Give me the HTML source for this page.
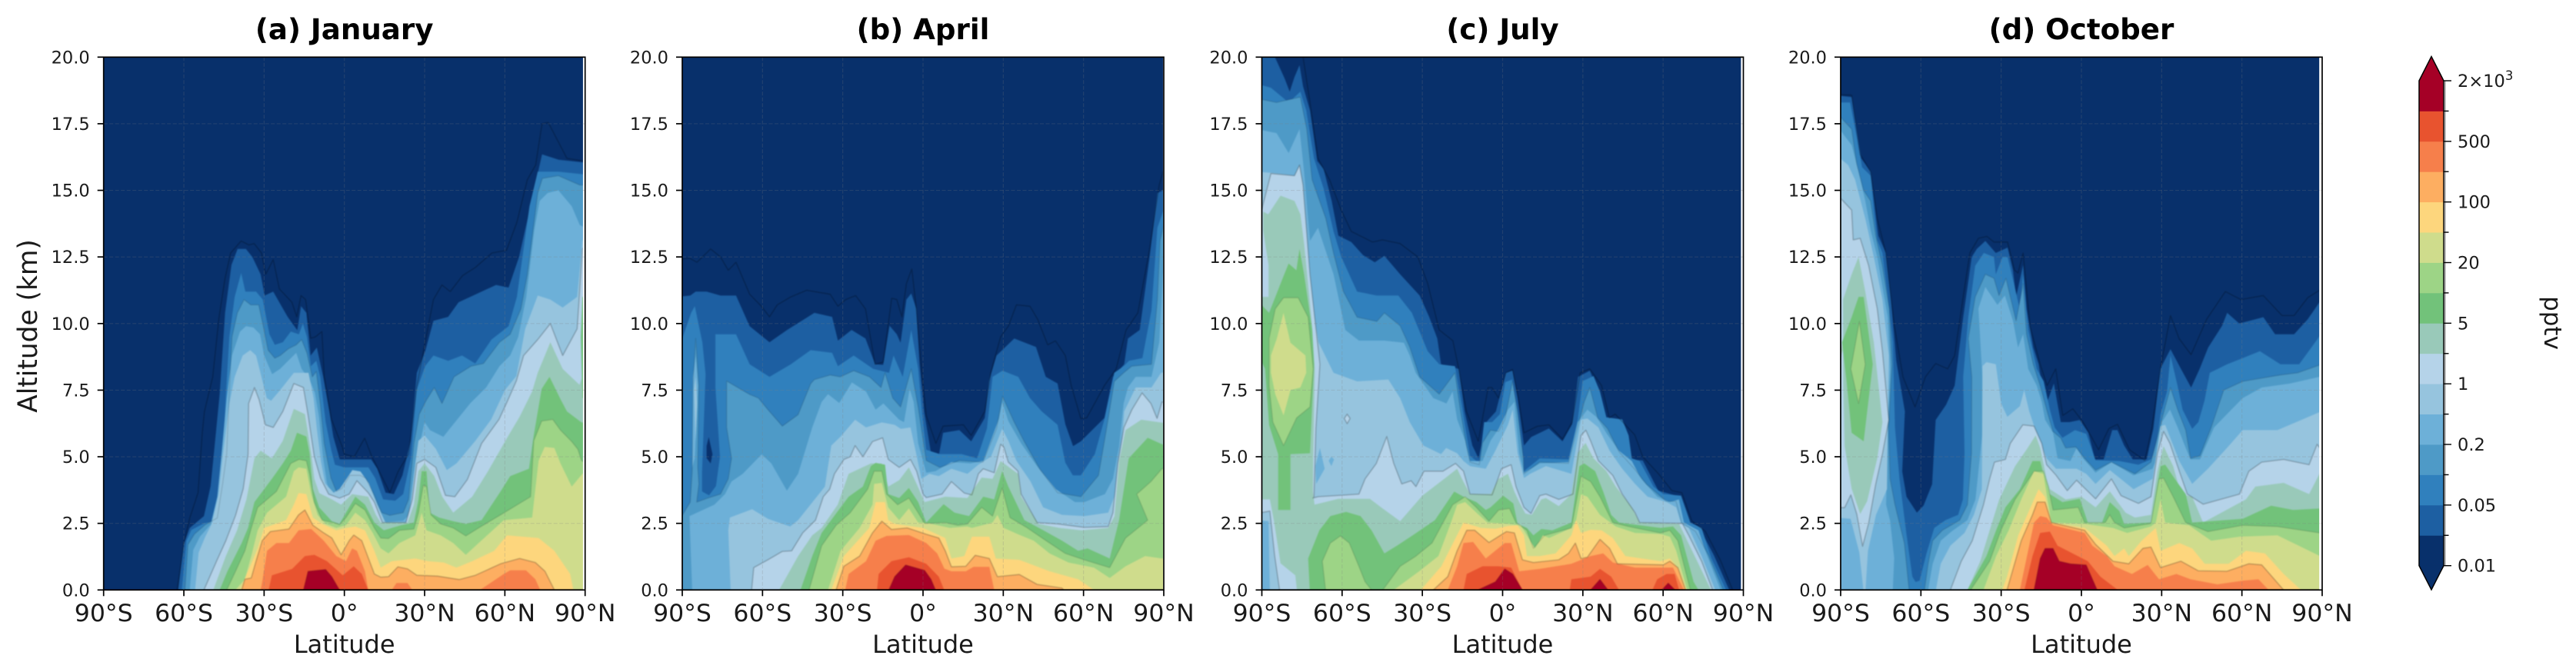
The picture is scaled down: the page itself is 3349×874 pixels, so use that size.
<!DOCTYPE html>
<html lang="en">
<head>
<meta charset="utf-8">
<title>Seasonal latitude-altitude cross sections</title>
<style>
html,body{margin:0;padding:0;background:#fff;}
svg{display:block;}
text{font-family:"DejaVu Sans","Liberation Sans",sans-serif;fill:#1a1a1a;}
</style>
</head>
<body>
<svg id="figure" xmlns="http://www.w3.org/2000/svg" width="3349" height="874" viewBox="0 0 3349 874">
<rect x="0" y="0" width="3349" height="874" fill="#ffffff"/>
</svg>
<script>
// Contour levels (pptv) and the colour of the band above each level
const levels = [0.01,0.02,0.05,0.1,0.2,0.5,1,2,5,10,20,50,100,200,500,1000,2000];
const bandColors = ['#08306b','#1d5fa2','#3080bd','#4e9ac7','#6db0d8','#96c4de','#b5d3e9','#99c9b9','#72c27a','#9dd486','#cfdc8c','#fdd67d','#fdae61','#f67f4b','#e8532f','#a50026'];
const cbarTickLabels = ['0.01','','0.05','','0.2','','1','','5','','20','','100','','500','','2×10^3'];
const latTicks = [-90,-60,-30,0,30,60,90];
const latTickLabels = ['90°S','60°S','30°S','0°','30°N','60°N','90°N'];
const altTicks = [0,2.5,5,7.5,10,12.5,15,17.5,20];
const altTickLabels = ['0.0','2.5','5.0','7.5','10.0','12.5','15.0','17.5','20.0'];
const panelTitles = ['(a) January','(b) April','(c) July','(d) October'];
const lastDataLat = [89.2,89.7,89.1,88.9];

// January: rings of lat,alt pairs for region where value >= level
const jan0p01=[[-62.5,0,-60.1,1.7,-57.8,2.7,-54.7,3.65,-53.1,5.9,-52.3,6.7,-49.2,8,-46.9,10.2,-44.6,11.7,-42.5,12.65,-38.6,13.1,-35.7,12.95,-33.7,13,-31,12.65,-29.4,11.85,-26.6,12.4,-24.3,11.3,-19.6,10.8,-17.8,10.25,-16.2,11.05,-14.5,10.9,-12.6,9.45,-10.8,9.5,-8.4,9.7,-7.5,8,-4.8,6.4,-0.9,5.4,0,5.1,3.7,5,7.6,5.7,10.3,5,12.3,4.6,17,3.65,20.1,4.45,24,5.1,27.1,7.65,30.2,9.3,33.3,10.9,36.5,11.45,39.6,11.2,44.2,11.8,48.9,12.1,55.2,12.65,60.6,12.75,64.5,13.8,68.4,15.4,71.5,15.95,73.9,17.5,76.2,17.55,83.2,16.2,89.4,16.1,92,16.1,92,0]];
const jan0p02=[[-62.1,0,-60.1,1.7,-57.8,2.33,-52.5,2.77,-50,3.9,-49,4.9,-46.6,7.35,-44.6,10.4,-42.2,12.2,-39.9,12.8,-36.8,12.8,-34.4,12.5,-31.3,11.85,-29.8,11.05,-26.6,11.2,-23.5,10.65,-21.2,10.25,-17.6,9.75,-16.2,10.65,-14.2,10.4,-12.6,8.8,-10.3,9.1,-7.9,8,-5.6,6.7,-4.1,5.75,-1.7,4.9,10,4.9,12.3,4.55,15.4,3.65,18.5,3.6,21.7,4.3,24.8,5.6,27.1,8.15,30.2,8.95,33.3,10.1,38.8,10.25,42.7,10.8,56.7,11.45,61.4,11.35,65.3,12.5,69.2,14.25,73.9,16.35,80.1,16.15,89.4,16.05,92,16.05,92,0]];
const jan0p05=[[-60.8,0,-59,1.85,-57.2,2.25,-52.5,2.5,-48.4,2.6,-46.6,4,-45.4,5.1,-44.2,7.5,-43,9.5,-41,11,-38.6,11.9,-37,11.2,-33,11.2,-30.5,10.9,-28,9.6,-26,9.2,-23,9.3,-20,9.7,-17,9.6,-15.5,10,-14,9.5,-12.5,8.4,-10.5,8.6,-9,8,-7,6.3,-5,5.3,-3.5,4.7,0,4.6,9,4.6,11.5,4.2,14.5,3.4,19,3.35,22,3.6,25,5,27,7.5,30.2,8.4,33.3,8.8,38.8,8.6,44,8.8,48.9,8.5,55,9.4,61.4,9.9,64.5,11,69.2,14.4,72.3,15.7,80,15.7,89.5,15.6,92,15.6,92,0]];
const jan0p1=[[-59.6,0,-58.5,1.7,-56,2.1,-52,2.45,-47.5,2.7,-45.5,4,-44,5.1,-43,7.5,-42,9.5,-40,10.4,-37.5,10.9,-35,10.7,-32,10.7,-30.5,10,-28.5,9,-26,8.7,-24,8.8,-21,9.05,-18,9.2,-16,9.4,-14,8.9,-12,8,-10.5,8.2,-9,7,-7.5,5.5,-5,4.2,-3,3.7,-1,3.8,2,4.3,6,4.3,8,4.2,11,3.6,14,2.9,17,2.8,22,2.9,24,3.4,26,5.5,28,6.6,30.5,7.1,33.6,7.6,36.5,7,41,8,47.4,8.4,52,8.5,58,9.3,62,9.6,66,10.55,68.4,11.85,72.3,14.9,74,15.45,80,15.55,88,15.2,92,15.2,92,0]];
const jan0p2=[[-57.8,0,-56.5,1.5,-54,2,-50,2.45,-47.5,3.5,-46,5,-44,7.2,-42,8.8,-39,9.7,-36.8,9.9,-34,9.85,-31.5,9.6,-30,8.8,-27,8.1,-24,8.3,-21,8.6,-18,8.9,-16,8.3,-13,7.9,-11,7.4,-9.5,6.5,-8,5,-6.5,4,-3,3.1,-1,3.3,1.5,3.9,5,4,7,3.7,10,3.4,13,2.6,16,2.55,22,2.6,24,2.8,26,4.4,28,5.4,30,6.3,32,6,34,5.9,37,5.75,39,6,43,6.5,47,7,53,7.6,58,8.4,62,8.8,65,9.5,68,11,71,13.5,73,14.6,76,14.9,80,15,85,14.4,88,13.7,92,13.5,92,0]];
const jan0p5=[[-55.8,0,-54.5,1.4,-52,2,-49.5,2.5,-47,3.6,-45.5,5,-43,7,-41,8,-38,8.8,-35.2,9,-33,8.8,-31,8,-29,7.2,-27.4,7.1,-24,7.5,-18.9,8.15,-13.4,8.15,-11.5,7.2,-10.3,6.05,-8.7,4.8,-7.2,4,-4,3.65,-1.7,3.8,3,4.5,6,4.45,9.2,4,12.3,3.2,15.4,2.52,23.2,2.52,24.8,3.17,26.5,4.75,27.7,5.6,30,5.8,34.2,5.3,38.3,4.5,41.9,4.75,49,5.6,54.9,6.4,60,7.5,64.3,8.03,67.6,9.8,72.3,11.05,77,10.9,81.6,10.6,87,11,89,13.1,92,13.5,92,0]];
const jan1=[[-52.5,0,-47.8,1.08,-44.3,1.85,-40.7,2.8,-37.8,3.8,-36,5.1,-35.8,7,-33.6,7.6,-31.9,7.15,-29.5,6.2,-26.6,6.1,-23,6.7,-18.9,7.75,-15.3,7.6,-13.6,6.6,-11.2,5,-8.9,4.2,-5.9,3.6,-1.8,3.45,1.8,3.6,4.7,4.1,8.9,3.65,11.2,3.3,14.2,2.53,23,2.53,25.4,3.4,27.1,4.75,30,4.9,34.2,4.6,37.8,3.55,41.3,3.5,46,4.15,51.3,5.5,57.8,6.4,60.8,7.05,64.3,7.85,67,8.8,72.3,9.4,77,10,81.6,8.8,87,9.8,89,12.8,92,13,92,0]];
const jan2=[[-49,0,-44.3,1.27,-40.1,2.24,-36.6,3.4,-33.6,4.94,-31.3,5.23,-27.1,4.94,-23,5.6,-18.9,6.8,-14.75,6.6,-12.4,5.13,-11.2,4.17,-9.4,3.64,-4.7,3.4,-1.2,3.2,2.9,3.6,8.9,3.5,11.8,2.82,13.6,2.53,23.6,2.53,26,3.2,27.7,4.46,30,4.75,33.6,4.27,36.6,3.5,40.7,2.9,47.8,3.5,53.7,4.46,60.8,5.7,65.5,6.5,70.2,7.45,72.3,8.15,77,9.3,81.6,8.3,87.9,7.7,89,8,92,8,92,0]];
const jan5=[[-46.6,0,-43.7,0.7,-38.4,1.76,-36,2.33,-33.6,3.3,-27.1,4.17,-23,4.75,-20,5.23,-17.7,5.9,-14.2,5.76,-13,5.13,-11.8,3.8,-9.4,3.1,-4.7,2.58,-1.8,2.48,0.6,2.9,4.1,3.5,7.7,3.2,11.2,2.53,14.75,2.24,21.2,2.43,26,2.53,27.7,3.4,28.9,4.46,30.7,4.46,31.9,2.9,35.4,2.72,40.7,2.58,45.4,2.48,51.3,2.62,58.4,3.7,62,4.27,69,4.55,70.8,5.8,73.75,7.55,76.7,8,80.8,7.16,83.2,6.7,88.5,6.3,92,6.2,92,0],[89,7.2,88.4,9.5,89,11,92,11,92,7.2]];
const jan10=[[-44,0,-40.7,0.7,-37.2,1.47,-34.8,2.33,-32.4,3.1,-25.4,3.7,-20,4.75,-17,4.9,-14.2,4.85,-13,4.36,-11.2,3.3,-8.3,2.62,-4.1,2.53,-1.8,2.45,0.6,2.72,4.1,3.25,7.7,3,11.2,2.33,13.6,1.95,16.5,1.93,20.6,2.24,26,2.29,27.7,2.9,29.5,3.93,30.7,3.88,32.4,2.82,36,2.48,40.7,2.33,45.4,2.03,50.2,2.33,58.4,2.82,69.6,3.5,70.8,5.6,73.75,6.34,77.9,6.4,80.8,6,85,5.57,87.3,5.28,88.7,4.85,92,4.7,92,0]];
const jan20=[[-40.7,0,-37.2,0.4,-34.8,1.27,-32.4,2.24,-28.9,2.9,-21.8,3.5,-18.9,4.46,-17.1,4.6,-14.2,4.55,-12.4,3.6,-10,2.82,-7,2.48,-3,2.33,0.6,2.43,4.1,2.9,7.7,2.62,10.6,2.14,13.6,1.56,16.5,1.37,20.6,1.76,26.5,2.05,28.9,2.9,30.7,2.24,36,2.05,40.7,1.76,45.4,1.32,50.2,1.76,59.6,2.62,70.2,2.72,72.6,4.85,74.9,5.37,78.5,5.33,80.8,4.75,85,3.88,89,4.36,92,4.4,92,0]];
const jan50=[[-39,0,-36.5,0.6,-34.8,0.98,-32.4,1.56,-30,2.33,-21.8,2.62,-18.9,3.2,-17.1,3.64,-14.2,3.6,-11.8,2.72,-8.3,2.48,-3,2.24,0.6,2.33,4.1,2.38,7.7,2.24,11.2,1.47,13.6,0.84,17.7,1.08,26.5,1.18,31.3,1.08,37.2,1.03,41.9,0.84,47.8,1.08,56,1.47,60.8,2.05,72.6,1.95,78.5,1.47,84.4,0.6,85.6,0]];
const jan100=[[-38.4,0,-37.2,0.4,-34.8,0.45,-33,1.08,-30.7,1.85,-27.7,2.19,-20.7,2.29,-17.1,2.82,-14.75,3,-11.8,2.43,-7.7,2.14,-4.7,1.95,-1.2,1.32,1.8,1.85,3.5,2.06,6.5,1.85,11.2,0.6,13.6,0.48,16.5,0.5,20,0.87,23.6,0.79,27.1,0.55,34.8,0.52,43,0.39,49,0.55,58.4,0.98,65.5,1.18,71.4,1.03,75,0.7,78.5,0]];
const jan200=[[-31.3,0,-30.7,0.3,-28.9,1.47,-25.4,1.76,-20.7,1.76,-17.1,2.24,-12.4,2.29,-7.7,1.85,-3,1.27,0.6,1.08,2.9,1.56,4.7,1.47,7.7,0.7,8.9,0],[17.7,0,19.5,0.26,23.6,0.26,25.4,0],[50.7,0,59.6,0.6,62,0.74,67.9,0.74,71.4,0.4,73.2,0]];
const jan500=[[-28.3,0,-27.1,0.55,-19.5,0.79,-14.75,1.27,-11.2,1.32,-6.5,1.08,-0.6,0.55,3.5,0.89,6.5,0.6,8.9,0]];
const jan1000=[[-15.3,0,-13.6,0.7,-7,0.77,-4.7,0.5,-1.8,0]];

// April
const apr0p01=[[-92,0,-92,12.4,-87.2,12.45,-84.5,12.3,-79.4,12.8,-75.7,12.5,-72.8,12,-69.9,12.3,-64.8,11.1,-60.4,10.65,-57.4,10.25,-54.5,10.7,-49.4,11,-43.5,11.25,-34.7,11.1,-31.8,10.65,-28.9,10.9,-25.2,11.05,-21.5,10.55,-17.9,8.47,-14.9,8.55,-11.7,10.95,-9.8,10.9,-7.9,10.25,-6.2,11.5,-4.2,12.05,-2.5,10.55,-0.3,8,1.2,6.55,4.8,5.5,7.5,6.15,15.1,6.2,18,5.8,23.1,6.7,25.3,8.15,29,9.5,31.9,9.9,34.9,10.7,40,10.65,42.9,10.15,46.6,9.2,49.5,9.35,53.2,8.8,55.4,7.67,59,6.43,61.2,6.46,67.8,7.67,72.2,8.3,75.9,9.76,80.3,10.4,84.7,12.8,88.3,15.2,89.7,15.7,92,16,92,0]];
const apr0p02=[[-92,0,-92,11,-87,11.05,-85,11.2,-80.9,11.2,-75.7,11.05,-69.9,11.05,-64.8,9.9,-57.4,9.3,-50.8,9.76,-40.6,10.4,-34,10.25,-31.8,9.36,-26.7,9.76,-21.5,9.44,-17.9,8.47,-14.9,8.45,-12.5,9.92,-9.8,9.6,-8.4,9.28,-6.2,10.9,-4.4,11.13,-2.5,10.55,-1.3,8.47,0.4,6.7,3.4,4.9,5.6,4.9,7.5,5.9,13.6,6,18,5.58,23.1,6.46,24.6,7.83,27.5,8.8,34.1,9.44,42.2,9.12,45.9,8,50.3,7.75,53.2,6.22,56.1,5.4,59,5.58,67.8,6.46,71,8,75.2,8.47,76.6,9.44,81,9.76,84.7,12.5,87.6,14.9,89.7,15,92,15,92,0],[-80.1,5.74,-78.7,5.1,-79.4,4.75,-80.9,4.95,-80.9,5.4],[-88,3.8,-87,3.6,-88,3.4],[-90,8.4,-89.6,8.4,-89.4,6,-89.6,4.7,-90,4.7]];
const apr0p05=[[-92,0,-92,9.44,-90,9.44,-86.7,10.4,-85.3,10.65,-82.5,9.3,-81.3,8.1,-82.6,4.4,-82.6,3.7,-80,3.55,-77.4,3.9,-75.9,5,-77.6,7.6,-77.6,9.6,-69.9,9.6,-64.8,8.47,-57.4,8,-49.4,8.47,-42,9,-34,8.9,-31.8,8.4,-25.9,8.8,-18.6,8.3,-12.7,8.15,-11,8.8,-7.6,8,-4.4,9.76,-1.8,8.3,-0.3,6.55,1.2,5.26,6.3,5.1,14.4,5.1,20.2,4.94,23.9,6.06,26,8,29.7,8.23,35.6,8,40,7.2,44.4,6.7,50.3,6.2,53.2,4.78,56,4.3,59,4.3,64.2,5.1,67.8,6.4,71.5,8.15,75,8.4,77,8.6,82,8.7,85.4,10.5,87.6,13.6,89.7,14.2,92,14.2,92,0]];
const apr0p1=[[-92,0,-92,2.8,-90,2.8,-87,3.3,-86.3,4.45,-86,7.67,-85,9.44,-83.8,7.67,-84.2,4.6,-83.8,3.97,-84.6,3.3,-80.4,3.45,-75.7,3.6,-72.8,4.17,-71.6,4.94,-73.4,6.1,-73.4,7.84,-65,7.35,-61.5,7.2,-58,6.77,-52.6,6.15,-46.7,6.58,-42,7.74,-40.6,7.9,-34.7,8.07,-31,8,-25.9,8.23,-20,8,-15.7,7.6,-14.2,8.15,-11.3,7.2,-8.4,6.87,-4.4,8.3,-1.8,6.87,1.2,4.86,6.3,4.6,13.6,4.86,22.4,4.8,27.5,6.06,29.7,7.27,34.1,6.3,37.8,5.58,43.7,4.53,50.3,3.65,59,3.5,65.6,4.3,68.6,6.06,71.5,7.83,75,8.15,78,8.4,85.4,8.47,87.6,10.9,88.6,13.1,89.7,13.6,92,13.8,92,0]];
const apr0p2=[[-86.3,0,-87.3,2.77,-78,3.2,-74,3.6,-71.6,4.07,-67.4,4.36,-60.3,5.09,-56.7,4.75,-50.9,3.73,-46.7,4.36,-41.4,6.1,-37.9,7.06,-35.5,7.35,-31.3,7.02,-26.6,7.79,-21.3,7.45,-17.7,6.77,-14.8,7,-8.9,6.39,-7.1,6.3,-5,7.55,-3.5,7.06,-1.8,5.5,1.2,4.4,4.7,4.46,10.6,4.8,17.7,4.75,22.5,4.85,28.4,6.44,29.6,7.06,31.9,6.34,36.7,5.5,42.6,4.65,49.7,3.78,56.8,3.3,60.3,3.3,68,3.6,71,4.17,73.3,5.4,75,7,76.6,7.6,79.5,8,85.4,8,88.3,9.3,89.7,11.85,92,12.2,92,0],[-86,7.99,-85,8.8,-84.1,7.66,-85.3,4.95,-86.3,4.6]];
const apr0p5=[[-71.9,0,-72.8,2.24,-72.2,2.72,-63.9,3.03,-58,2.67,-49.7,2.38,-46.7,2.62,-36.7,3.88,-34.3,5.42,-30.8,5.76,-25.4,6.39,-21.3,6.1,-15.4,6.29,-10.6,6.2,-8.3,6.05,-4.7,6.1,-2.4,5.04,-0.6,4.17,2.4,4.36,5.9,4.27,10.6,4.55,16.6,4.36,20.7,4.7,25.4,5,29.6,6.05,31.9,5.6,34.9,4.85,40.2,4.07,44.9,3.1,52,2.82,60.3,2.77,69.2,2.9,71.5,3.5,73.9,4.94,75.2,6.7,79.5,7.6,85.4,7.6,89,8.15,92,8.2,92,0],[-85.6,7.5,-85,8,-84.4,7,-85,5.6]];
const apr1=[[-64.1,0,-63.3,0.84,-58,1.13,-52.6,1.45,-49.1,1.47,-45,2.14,-40.2,2.62,-37.3,3.5,-34.9,3.78,-33.1,4.36,-29.6,4.9,-27.2,5,-25.4,5.42,-22.5,5,-18.9,5.57,-15.1,5.71,-13,4.9,-8.9,4.6,-4.7,4.9,-2.4,4.46,0,3.6,1.2,3.47,7.1,3.6,10.6,4.07,15.4,3.64,18.3,3.57,20.7,4.36,22.5,4.55,26.6,4.4,29,5.47,30.2,5.37,31.9,4.8,35.5,4.46,36.7,3.6,42.6,2.53,50.3,2.48,60.3,2.35,69.2,2.38,71,2.9,72.8,4.75,75.1,6.1,78.1,6.77,81.9,7.4,85.2,7,87.5,6.44,89.3,7.06,92,7,92,0]];
const apr2=[[-53.8,0,-46.7,1.27,-41.4,2.05,-37.9,2.33,-31.9,3.2,-27.8,4.36,-19.5,4.75,-15.4,4.75,-13,3.88,-8.9,4.12,-5.3,4.6,-2.4,3.98,0.6,3.3,8.3,3.5,16.6,3.45,21.9,4.22,26,4.17,29,4.84,35.5,4.36,36.7,3.5,43.2,2.48,51,2.33,59.2,2.24,69.2,2.33,71.6,2.77,73.3,4.84,75.7,6,81.6,6.39,92,6.24,92,0]];
const apr5=[[-45.8,0,-41.4,1.27,-37.9,2.14,-30.8,3.1,-27.8,3.5,-22.5,3.88,-19.5,4.65,-17.7,4.77,-14.2,4.7,-13,3.6,-8.9,3.45,-5.3,3.83,-1.8,3.3,1.2,2.53,7.7,3.22,11.8,2.9,17.2,2.77,22.5,3.5,26.6,3.4,29.6,4.46,31.9,3.88,37.9,2.62,45,2.24,52,1.85,58,1.47,61.5,1.56,69.8,1.18,73.3,2.62,76.9,4.94,84,5.71,89.3,5.47,92,5.4,92,0]];
const apr10=[[-42.6,0,-37.9,1.66,-32.5,2.43,-27.2,2.9,-20.7,3.78,-18.3,4.46,-15.4,4.46,-13.6,3.6,-9.5,3.2,-5.3,3.45,-1.8,2.9,0.6,2.5,8.3,2.53,13,2.43,16.6,2.48,21.9,3.1,26,2.77,29.6,3.83,32.5,2.72,39,2.33,46,1.85,53.2,1.37,60.3,1.13,69.8,0.84,75.7,1.95,84,2.62,79.9,3.6,85.2,4.07,89.3,4.55,92,4.6,92,0]];
const apr20=[[-35.5,0,-30.8,1.47,-23.7,2.33,-18.9,3.2,-18.3,3.98,-15.4,4.02,-13,3.1,-8.9,2.62,-5.3,3.06,-1.8,2.53,2.4,2.5,10,2.33,16.6,2.38,18.3,2.33,26,2.53,27.8,2.82,30.2,2.33,35.5,2.09,41.4,1.85,47.3,1.37,54.4,1.03,63.9,0.84,69.8,0.45,75.7,0.89,83,1.27,89.3,1.18,92,1.2,92,0]];
const apr50=[[-34.3,0,-29.6,1.27,-20.1,2.33,-17.7,3.3,-14.2,3.3,-13,2.62,-10.6,2.48,0,2.33,8.3,1.95,10.6,1.18,15.4,1.27,18.3,2,24.8,2,27.2,1.18,36,1.13,47.3,0.7,58,0.4,63.9,0]];
const apr100=[[-32.5,0,-29.6,0.89,-23.7,1.27,-18.9,2.14,-15.4,2.58,-11.8,2.27,-5.9,2.33,1.2,2.09,5.9,1.95,8.3,1.47,10.6,0.87,16,0.89,19.5,1.3,24.8,1.18,27.8,0.5,36,0.58,42.6,0.21,52,0.07,52.6,0]];
const apr200=[[-29.1,0,-27.8,0.6,-21.3,1.08,-17.7,1.85,-13.6,2.03,-5.3,2.06,1.2,1.76,5.3,1.37,8,0.8,10.6,0.7,16,0.7,18.9,0.87,24.8,0.87,26.6,0]];
const apr500=[[-17.2,0,-16.6,0.6,-11.8,1.08,-5.3,1.23,1.2,0.98,5.9,0.5,7.9,0]];
const apr1000=[[-12.8,0,-10.6,0.5,-6.5,0.94,0.6,0.74,3,0.4,4.7,0]];

// July
const jul0p01=[[-92,0,-92,21,-74.6,21,-74.6,20,-72,18.3,-69,16.2,-64.7,15.4,-60.3,14.25,-56.6,13.46,-48.6,13.06,-44.9,13.14,-38.3,13,-31.7,12.5,-28,11.5,-23.7,9.76,-18.6,9.36,-16.4,8.3,-13.5,6.7,-9.1,5.58,-5.4,7.6,-4,7.6,-1.5,7.2,1.2,8.15,3.7,8.28,5.9,7.2,8,5.9,12.9,6.14,17.3,6.2,22.4,5.66,26,6.3,29,8.15,32.6,8.3,37,7.67,39.9,6.46,42.1,6.6,49.4,5.82,52.4,5,58.2,4.37,63.3,3.73,67,3.65,70.7,2.6,75.8,2.2,81.5,1.1,86,0]];
const jul0p02=[[-92,0,-92,21,-85.1,21,-85.1,20,-81.5,19.2,-79.6,18.7,-77.8,19.25,-75.9,19.7,-74.6,18.9,-72,18,-69.3,16.1,-66.9,15.8,-63.9,14.6,-61.4,13.3,-56.6,13.06,-52.2,12.57,-47.8,12.3,-44.2,12.54,-38.3,11.85,-31,11.05,-27.4,10.24,-24.4,9.44,-23,8.47,-16.4,8.3,-14.2,6.7,-11.3,5.42,-9,4.94,-6.1,6.3,-2.5,6.7,1.2,8.15,3.7,8.23,5.6,7.2,8,5.42,10.7,5.74,17.3,6.06,22.4,5.58,26,6.22,28.2,8,32.6,8.23,36.3,7.35,38.5,6.46,42.9,6.3,45.8,5.74,48,4.9,52.4,4.86,58.2,3.73,66.3,3.5,68.5,2.6,74.3,2.2,79,1.3,84.7,0]];
const jul0p05=[[-92,0,-92,19,-86.6,18.85,-80,18.3,-75.6,18.7,-73.4,18,-70.5,16.2,-66.9,15.07,-63.2,13.46,-60.3,12.5,-54.4,11.2,-47,11.05,-39,11.05,-33.9,10.4,-28,8.96,-23.7,8.47,-17.8,8.4,-14.9,6.7,-12.2,5.04,-8.7,4.75,-6.9,6.3,-3.9,6.3,-1,6.6,1,7.8,3.6,7.9,5.5,6.6,7,4.6,8,4.46,13.9,4.94,24.6,4.9,28.1,6.4,29.9,7.84,34,8.03,36.4,7.45,38.8,6.48,44.7,6.4,47.1,5.8,48.3,4.94,51.2,4.84,56.4,3.88,60.1,3.6,66.7,3.54,70.2,2.53,74.4,2.33,78,1.2,83.5,0]];
const jul0p1=[[-92,0,-92,18.45,-84.5,18.3,-75.6,18.5,-73.2,17.3,-71.2,15.4,-66.1,13.95,-63.2,12.65,-59.5,11.2,-54.4,10.24,-47,10.08,-44.2,10.4,-38.3,9.92,-34.7,9.12,-31,8,-23.7,7.35,-17.8,8.15,-15.7,6.7,-13.5,5.42,-12.2,4.8,-8.7,4.7,-7.5,5.52,-4.5,6,-1.5,5.95,0.8,6.39,3.7,7.83,5.6,6.7,7.8,4.94,8,4.36,13.9,4.8,24.6,4.75,27.5,5.9,30.5,7.06,32.6,7.6,35.6,6.46,39.2,6.06,43.6,5.18,49.4,4.53,53.8,3.97,61.2,3.33,64.8,3.33,67,2.52,72.1,2.2,77,1.3,82.5,0]];
const jul0p2=[[-92,0,-92,17.3,-84.5,17.15,-80,16.4,-75.9,17.3,-74.2,15.7,-72,13.1,-69,13.6,-63.2,11.85,-58.8,9.76,-53.7,9.36,-44.2,9.36,-36.9,9.28,-34.7,8.8,-32.5,8.15,-25.9,7.2,-21,7,-18.7,7.45,-17,6.4,-14,5.6,-12.2,4.84,-7.5,4.84,-4.5,5.6,-1.5,6.05,2,6.77,4.4,7.06,6.2,5.13,8,4.4,13.9,4.75,24.6,4.8,28.1,6.3,31.7,6.77,35.2,6.48,39,5.86,43.5,5.23,48.3,4.84,51.8,4.17,57.8,3.5,62.5,3.3,65.9,3.4,67.8,2.53,73.2,2.24,76.5,1.27,81.5,0]];
const jul0p5=[[-87,0,-87.5,2.58,-92,2.62,-92,15.7,-86.6,15.66,-77.8,15.55,-75.6,15.8,-74.2,14.6,-72,11.2,-68.8,9.3,-63.2,8.15,-54.4,7.83,-42.7,7.9,-38.3,7.2,-34.7,6.3,-29.6,5.42,-23,5.1,-21.1,5.33,-17,5.13,-14.6,4.84,-12.2,4.65,-6.3,4.55,-2.7,5.23,2,6.2,3.8,6.77,5.6,5.13,8,4.2,10.3,4.36,16.2,4.65,25.7,4.36,29.3,6.39,31.7,6.44,35.8,6.1,40,5.23,44.7,4.55,49.5,3.98,54.2,3.5,61.3,3.3,64.9,3.1,66.7,2.48,69.6,2.33,74.4,1.27,79.5,0],[-68.3,5.33,-66.5,4.55,-69.7,3.98,-70,4.65],[-64,5,-63,4.9,-64,4.65,-65,4.85]];
const jul1=[[-83.4,0,-85.2,1.27,-87,2.96,-92,2.87,-92,14.3,-90,14.3,-86.6,15.63,-77.8,15.55,-75.9,15.95,-74.6,15.2,-72,11.85,-68.3,8.47,-69.8,6.06,-70.5,3.49,-70.9,3.45,-69,3.5,-53.7,3.6,-51.4,4.17,-47.2,4.75,-43.3,5.76,-40.7,4.75,-37.7,3.98,-34.2,4.1,-32.4,3.88,-29.4,4.46,-22.3,4.46,-17.6,4.75,-14.6,4.46,-12.2,3.6,-3.9,3.57,-0.4,4.55,3.2,4.7,5,3.88,8,3.1,10.6,2.87,13.9,3.54,16.2,3.6,21,3.4,26.3,3.6,29.3,5.8,31.1,6,32.9,5.6,35.8,4.85,41.2,4.3,44.7,3.6,49.5,2.9,51.2,2.53,67.2,2.5,69.6,2.05,74.4,1.08,78.5,0],[-58.1,6.6,-57,6.44,-58.1,6.24,-59.2,6.44]];
const jul2=[[-76.9,0,-77.5,0.55,-83,1,-85.5,2.6,-87,3.4,-92,3.4,-92,11,-87.5,11,-87.5,12.2,-89.5,13.5,-89.5,14.2,-87.6,14.1,-83,14.8,-77.8,14.6,-75.6,14.1,-74.2,13,-71.2,9.9,-70.2,8.3,-70.8,5.1,-70.9,3.7,-70.3,3.2,-61.4,3.42,-49.6,3.42,-45.4,3.1,-38.3,2.58,-30,3.54,-20.5,4.27,-17,4.55,-15.2,4.17,-12.2,3.6,-4.5,3.6,-1.5,4.17,2,4.36,4.4,3.69,6.2,3.3,8.5,2.87,10.9,2.82,14.5,3.4,16.2,3.45,21,3.15,25.7,3.6,28.1,5.13,31,5.52,34,4.94,38.8,4.46,42.3,3.88,48.3,3.1,51.2,2.53,66,2.48,69,1.85,73.2,0.98,77.9,0]];
const jul5=[[-72.1,0,-72.7,1.18,-68.5,2.24,-64.4,2.77,-58.5,2.93,-53.1,2.77,-49,2.24,-44.2,1.37,-39.5,1.66,-33.6,2.05,-25.3,2.62,-18.1,3.69,-14.6,3.5,-9.8,3.3,-6.3,3,-4.5,3.1,0.2,3.54,4,3.25,5.6,2.48,9.1,2.33,11.5,2.05,14.5,2.29,18.6,2.24,25.7,2.53,28.7,4.65,30.5,4.75,34.6,4.46,37.6,3.69,40.6,2.82,43.5,2.53,59,2.33,63.7,2.38,66.7,2.05,71.4,0.31,73.2,0],[-87.3,10.4,-82.2,11.7,-80,12.25,-77.1,12,-75.9,12.8,-74.2,11.85,-71.2,9.76,-70.5,8.47,-72,5.13,-79.3,5.1,-79.3,3,-83.9,3,-83.9,5.1,-87.3,6.2,-88.8,8.3,-92,8.96,-92,10.9]];
const jul10=[[-66.2,0,-67.4,1.08,-64.4,1.76,-60.6,2.03,-57.3,1.76,-53.7,0.89,-51.4,0.31,-49,0],[-44.8,0,-38.3,0.89,-32.4,1.27,-26.4,1.76,-18.7,3.2,-14,3.5,-9.8,3.1,-5.1,2.58,-1.5,3,2.6,3.06,5,2.53,9.1,2.24,11.5,1.56,15.7,2.05,25.7,2.33,29.3,4.27,32.9,4.07,36.4,3.5,41.2,2.53,47.1,2.38,59,2.14,62.5,2.24,65.5,1.85,70.2,0],[-85,10.55,-81.9,10.97,-76.4,10.97,-72.7,10.24,-70.8,8.3,-72,6.87,-77,6.46,-81.9,5.42,-85.9,6.3,-87.3,7.67,-87.3,9.44]];
const jul20=[[-40.7,0,-31.2,0.7,-24,1.27,-19.3,2.53,-17,3.2,-14,3.3,-9.8,2.9,-5.7,2.53,2,2.48,6.8,2.43,9.1,2.05,12.1,1.56,15.1,2.05,17.4,1.95,25.7,2.33,27.5,2.62,29.3,3.59,31.7,3.5,36.4,2.82,42.3,2.38,49.5,2.14,59,2.1,62.5,2,64.9,1.47,69,0],[-86.6,8.8,-84.4,9.44,-81.9,10.4,-79.3,9.28,-73.7,8.8,-73.4,8.15,-75.6,7.6,-79.3,7.5,-81.9,6.55,-85,7.35,-86.6,8.15]];
const jul50=[[-30.6,0,-22.9,0.89,-18.1,1.85,-14.6,2.53,-8,2.33,-2.7,2.3,2,2.4,5.6,2.43,8,2.05,9.1,1.27,13.9,1.27,19.8,1.37,25.7,2.05,27.5,2.62,29.3,2.14,32.9,2.26,37,2.24,41.2,1.95,45.9,1.27,59,1.08,62.5,1.18,66,0.79,68.7,0]];
const jul100=[[-25.9,0,-20.5,0.5,-17,1.47,-13.4,2.24,-10.4,2.24,-5.1,1.78,1.4,2.19,4.4,2.14,7.4,1.13,11.5,1.03,21,1.13,24.6,1.37,27.2,1.76,29.3,1.18,31.7,1.23,36.4,1.9,40,1.56,42.9,0.98,60.1,0.94,62.5,1.08,65.5,0.84,68.4,0]];
const jul200=[[-20.5,0,-17,0.89,-14.6,1.76,-11,1.8,-6.3,1.18,0.8,1.76,3.2,1.76,6.2,0.7,13.9,0.79,25.7,0.98,32.9,1.27,37.6,1.37,41.2,1.03,49.5,0.84,60.1,0.84,63.7,0.84,67.2,0.12,67.8,0]];
const jul500=[[-14.6,0,-13.4,0.6,-7.5,0.89,-1.5,0.89,3.2,0.84,7.4,0],[25.1,0,25.7,0.4,32.9,0.5,36.4,0.79,40.6,0.5,43.5,0],[56,0,57.8,0.4,61.3,0.6,64.3,0.6,66,0]];
const jul1000=[[-9.3,0,-2.7,0.31,0.8,0.79,3.8,0.6,7.4,0],[32.9,0,36.4,0.4,39.4,0],[59.5,0,61.9,0.26,64.5,0]];

// October
const oct0p01=[[-92,0,-92,18.6,-85.9,18.57,-82.7,16.35,-78.8,15.7,-76.3,13.94,-73.1,12.65,-69.9,9.9,-66.7,8,-62.2,6.87,-58.3,8,-54.5,8.5,-50,8.3,-47.4,8.8,-44.2,11,-41.7,12.65,-38.5,13.2,-35.3,13.27,-32.7,13.06,-27.6,13.06,-25,12,-23.7,11.9,-21.8,12.65,-19.2,9.9,-15.4,8.47,-12.8,7.67,-9.6,8.3,-7,6.55,-3.2,6.8,0.6,6.3,3.8,5.74,6.4,5.26,10.3,6.06,13.5,6.22,18,5.26,23.7,4.86,26.3,6.06,29.5,8.3,33.3,10.3,36.5,9.44,41,8.83,46.8,10.16,53.8,11.2,59.6,10.9,68,11.05,75,10.3,79.5,10.3,84.6,10.97,89,11.25,92,11.3,92,0]];
const oct0p02=[[-92,0,-92,18.57,-85.9,18.5,-84,17.3,-82.3,16.2,-78.8,15.7,-76.9,14.1,-75.9,13.3,-73.1,12.65,-71.2,10.9,-69.2,8.6,-66,6.7,-67,4.45,-65.4,3.5,-61.5,2.9,-59,3.17,-55.8,3.97,-54.5,6.38,-50.6,6.95,-47.4,7.67,-44.2,10.24,-41,12.5,-39.1,12.8,-35.9,13.1,-32,12.65,-27.6,12.85,-25.6,12,-24.4,11,-21.8,12.2,-20.5,10.55,-18,9.1,-16,8.47,-13.5,6.87,-10.3,7.75,-7.7,6.3,-4.5,6.3,-0.6,6.38,2.6,5.9,5.1,4.9,8.3,4.9,11.5,6,13.5,6,16,5.42,19.2,4.9,24.4,4.9,26.9,6.06,29.5,8.3,33.3,9.04,37.2,8.3,41,7.6,44.2,8.3,47.4,9.1,52.6,9.92,54.5,10.4,59,10,68,10.24,72.4,9.6,79.5,9.6,84.6,10.16,89,10.8,92,10.8,92,0]];
const oct0p05=[[-92,0,-92,18.3,-86.5,18.3,-84,17,-82,15.87,-78.8,15.55,-77.6,14.26,-76.3,13.14,-74.4,12.65,-72.4,11.05,-70.5,9.3,-69.7,6.1,-68,4.17,-65.6,2.24,-63.2,0.5,-62,0.3,-60.5,0.35,-57.9,1.37,-55,2.33,-50.8,2.62,-46.1,2.82,-44.3,3.4,-43.7,5.13,-44.2,8,-42.3,10.24,-39.7,12.17,-36.5,12.65,-32.7,12.5,-32,11.85,-29.5,12.5,-27.6,12.5,-25,11.4,-23.1,10.55,-21.8,11.85,-19.9,9.76,-16.7,8.3,-14.1,7.83,-11.8,6.77,-10,6.1,-7.1,5.71,-2.4,6,1.8,5.86,5.3,4.87,14.2,4.84,21.3,4.7,26,4.9,27.8,5.3,29.6,6.6,32,7.45,33.3,8.8,36,7.64,37.8,6.77,41.4,6.05,43.7,6.3,46,7.1,48,8.15,54.5,8.47,66.7,8.96,74.4,8.47,81.4,8.47,89,9.52,92,9.6,92,0]];
const oct0p1=[[-92,0,-92,17.96,-85.9,17.3,-84,16,-81.4,15,-78.8,14.6,-76.9,13.3,-74.4,12.17,-71.8,10.56,-70.8,8.47,-72.1,6.1,-71.5,4.17,-69.7,3.2,-66.2,1.76,-64.4,0],[-58.7,0,-57.3,0.98,-55.6,1.85,-52,2.24,-45.5,2.62,-42.6,3.2,-41.1,5.13,-41,8,-42.3,9.44,-39.7,11,-35.9,11.85,-32.7,11.7,-30.8,11.05,-28.2,11.7,-24.4,10.1,-21.8,11.5,-20.5,9.6,-18,8.47,-15.4,7.67,-13,6.77,-10.6,5.95,-7.7,5.7,-5.9,5.33,-2.1,5.37,1.2,4.94,5.3,4.5,11.2,4.8,20,4.36,26,4.8,27.8,5.5,29.6,6.24,33.3,7.6,36,6.77,39,6,40.8,4.94,44.3,5.04,48.5,6.1,53.2,7.5,60.3,7.83,74.4,8.07,80.8,8.15,89,8.44,92,8.5,92,0]];
const oct0p2=[[-92,0,-92,17.5,-85.9,16.7,-83.3,15.7,-80.8,14.6,-78.8,13.5,-76.3,12.5,-72.4,10.24,-71.5,8.3,-72.4,6.06,-73,3.2,-71.5,2.6,-70,1.2,-70.5,0],[-57.3,0,-55.6,0.98,-52.6,1.85,-48.5,2.2,-42.6,2.62,-39.6,3.4,-36.6,6.3,-37,8,-38.5,10.56,-35.9,11.37,-31.4,10.7,-28.6,11.05,-25.6,10.1,-23.7,9.1,-21.8,9.6,-19.9,8.3,-16.7,7.67,-14.8,7.06,-13.6,6.39,-10.6,5.9,-8.9,4.94,-4.1,4.84,-1.8,5.33,0.6,4.94,5.3,4.4,11.2,4.8,19.5,4.3,26.6,4.55,28.4,5,30.1,6.3,33.1,6.77,36,6.1,39,5.33,40.8,4.9,44.3,4.9,49.6,6.1,54.4,6.6,60.3,7.2,67.4,7.6,78,7.75,89,8,92,8,92,0]];
const oct0p5=[[-81.5,0,-83,1.4,-86.3,2.67,-92,2.72,-92,16.35,-87.2,15.95,-84.6,15.4,-80.8,13.94,-77.6,12.5,-74.4,10.9,-72,8.8,-72.4,6.06,-72.7,3.78,-76.8,2.82,-79.8,1.47,-80.7,0],[-54.4,0,-52.6,0.98,-49,1.66,-43.7,2.14,-40.2,2.82,-37.2,3.78,-37,8.4,-35.5,8.55,-32,8.47,-30,7,-27.7,6.5,-23,6.9,-21.4,7.5,-19.5,6.7,-16.5,5.8,-13,4.94,-9.5,4.55,-4.1,4.55,-1.8,4.55,1.8,4.36,5.3,3.98,10.6,4.5,19.5,3.78,26.6,4.17,29.6,6.15,31.3,6.2,36.6,4.84,41.4,3.98,47.3,4.55,54.4,5.33,60.3,6,73.3,6,89.2,6.68,92,6.7,92,0]];
const oct1=[[-92,3.09,-88.5,3.09,-86.2,3.57,-84,2.85,-81.8,1.64,-79.5,2.52,-76.9,3.97,-74.4,5.1,-72,6.38,-74.4,8.96,-76.3,10.56,-79.5,12.17,-82.7,13.2,-85.3,13.14,-85.9,14.26,-89.7,14.67,-92,14.7],[-49,0,-44.9,1.08,-40.8,1.85,-36.6,3.2,-34.3,4.17,-32.5,4.8,-28.4,4.9,-26.6,5.5,-21.9,6.2,-17.7,6.15,-14.8,5.5,-13,4.7,-9.5,4.31,-5.3,3.73,-1.8,4.12,5.3,3.42,11.2,4.17,14.8,3.54,21.3,3.25,26,3.5,28.4,5.13,30.7,5.95,33.1,5.5,36.6,4.46,39.6,3.6,45.5,3.22,59.1,3.6,62.6,4.46,67.4,4.8,75.6,4.9,85.1,4.7,88.1,5.47,89.5,5.28,92,5.2,92,0]];
const oct2=[[-83.3,12.5,-80.8,11.2,-77.6,9.3,-74.4,6.3,-76.3,4.94,-80.1,3.33,-82.7,2.85,-85.9,3.8,-88.5,5.4,-89,7.67,-89.1,10.9,-85.9,11.85],[-42.6,0,-37.8,1.08,-34.3,2.24,-30.7,3.4,-24.8,4.65,-20.1,5.33,-17.1,5.8,-15.4,5.33,-13,4.17,-11.8,3.78,-5.9,3.4,0,3.5,5.3,3.1,10.6,3.7,16.5,2.9,20,2.72,26,2.82,28.4,4.46,30.7,5.4,34.3,4.65,37.2,3.6,41.4,3.5,45.5,2.53,61.5,3.4,65,3.88,75.6,4.02,85.1,3.6,89.5,4.46,92,4.5,92,0]];
const oct5=[[-83.3,11,-81.4,11,-78,8.47,-81.4,5.58,-85.9,5.9,-87.8,7.83,-89.5,9.3,-85.9,10.24],[-42.6,0,-35.5,1.27,-31.9,2.24,-28.4,3.1,-23,3.78,-18.3,4.84,-15.4,4.84,-12.4,3.64,-7.1,3.3,-0.6,3.42,2.4,2.53,7.7,2.53,10.6,3.3,14.2,2.96,16,2.48,26,2.53,29.6,4.65,31.3,4.7,34.9,4.17,39,3.6,41.4,2.53,60.3,2.67,70.9,3.16,79.2,3,89.5,3.06,92,3.1,92,0]];
const oct10=[[-83,10.08,-80.8,8.47,-83.3,7,-86.2,8.3],[-92,10.3,-89.6,9,-92,7.7],[-41.4,0,-34.3,1.08,-30.1,2.24,-24.8,3.4,-17.7,4.46,-14.2,4.46,-12.4,3.88,-10.6,3,-1.2,3.1,1.2,2.53,8.9,2.53,10.6,2.82,12.4,2.53,16,2.33,26,2.5,29,4.17,30.7,4.2,34.3,3.5,39,2.53,47.3,2.19,60.3,2.43,73.3,2.38,89.2,2.14,92,2.1,92,0]];
const oct20=[[-36.6,0,-31.9,1.27,-27.2,2.24,-22.5,3.4,-17.7,4.46,-14.2,4.36,-13,3.6,-11.2,2.53,1.2,2.48,11.8,2.33,17.1,2.14,26,2.38,27.8,2.53,29.6,3.4,31.3,2.53,40.2,2.43,48.5,1.85,59.1,2,73.3,2.05,89.2,1.27,92,1.3,92,0]];
const oct50=[[-29.6,0,-27.8,0.5,-23.6,2.05,-17.7,3.4,-16,3.78,-13.6,3.5,-11.2,2.53,1.2,2.33,4.7,2.05,9.5,1.66,12.4,1.27,16,1.56,17.7,1.27,22.5,1.85,27.8,2.33,29.6,1.47,36.6,1.76,41.4,1.56,46.1,0.98,55,0.98,61.5,1.47,68.6,1.37,75.6,0.6,82.1,0]];
const oct100=[[-27.8,0,-22.5,1.85,-18.3,2.82,-16.5,3.3,-13.6,3.3,-11.2,2.53,1.2,2.24,5.3,1.71,11.8,1.08,17.7,0.98,23,1.56,26,1.61,29.6,0.84,37.2,1.08,43.7,0.72,54.4,0.7,62.6,0.98,67.4,0.94,75.6,0]];
const oct200=[[-23,0,-17.7,2.53,-15.4,2.77,-13,2.72,-10.6,2.43,1.2,2.14,4.1,1.66,9.5,1.27,12.4,0.89,18.9,0.6,24.8,0.94,29,0.4,35.5,0.6,40.8,0.4,50.8,0.21,60.3,0.35,66.2,0.4,70,0]];
const oct500=[[-21.3,0,-18.3,1.27,-15.4,2.14,-11.8,2.19,-8.9,1.66,2.4,1.08,7.1,0.5,13.6,0]];
const oct1000=[[-17.7,0,-15.4,1.18,-13.6,1.56,-10.6,1.56,-8.3,1.08,-4.1,0.98,1.8,0.94,5.9,0]];

const janBands=[jan0p01,jan0p02,jan0p05,jan0p1,jan0p2,jan0p5,jan1,jan2,jan5,jan10,jan20,jan50,jan100,jan200,jan500,jan1000];
const aprBands=[apr0p01,apr0p02,apr0p05,apr0p1,apr0p2,apr0p5,apr1,apr2,apr5,apr10,apr20,apr50,apr100,apr200,apr500,apr1000];
const julBands=[jul0p01,jul0p02,jul0p05,jul0p1,jul0p2,jul0p5,jul1,jul2,jul5,jul10,jul20,jul50,jul100,jul200,jul500,jul1000];
const octBands=[oct0p01,oct0p02,oct0p05,oct0p1,oct0p2,oct0p5,oct1,oct2,oct5,oct10,oct20,oct50,oct100,oct200,oct500,oct1000];
const allBands=[janBands,aprBands,julBands,octBands];

const SVG_NS='http://www.w3.org/2000/svg';
const root=document.getElementById('figure');
const axisTop=74.3, axisBottom=767.3, axisWidth=626;
const axisLefts=[134.7,887,1640.5,2393];
function svgEl(tag,parent){const e=document.createElementNS(SVG_NS,tag);parent.appendChild(e);return e;}
function altY(alt){return axisBottom-alt/20*(axisBottom-axisTop);}
function latX(lat,left){return left+(lat+90)/180*axisWidth;}
function ringsToPath(rings,left){
  return rings.map(function(r){
    let d='';
    for(let i=0;i<r.length;i+=2){d+=(i?'L':'M')+latX(r[i],left).toFixed(1)+' '+altY(r[i+1]).toFixed(1);}
    return d+'Z';
  }).join('');
}
function lineOpacity(i){
  if(i%6===0)return 0.26;
  if(i%3===0)return 0.13;
  return 0;
}

allBands.forEach(function(bands,p){
  const left=axisLefts[p];
  const panel=svgEl('g',root);
  
  

  const clip=svgEl('clipPath',panel);
  clip.setAttribute('id','clip'+p);
  const clipRect=svgEl('rect',clip);
  clipRect.setAttribute('x',left);
  clipRect.setAttribute('y',axisTop);
  clipRect.setAttribute('width',latX(lastDataLat[p],left)-left);
  clipRect.setAttribute('height',axisBottom-axisTop);

  const clipped=svgEl('g',panel);
  clipped.setAttribute('clip-path','url(#clip'+p+')');
  
  
  const field=svgEl('g',clipped);
  field.setAttribute('style','filter:blur(0.7px)');
  
  
  const base=svgEl('rect',field);
  
  
  base.setAttribute('x',left-5);
  base.setAttribute('y',axisTop-5);
  base.setAttribute('width',axisWidth+10);
  base.setAttribute('height',axisBottom-axisTop+10);
  base.setAttribute('fill',bandColors[0]);

  bands.forEach(function(rings,i){
    const band=svgEl('path',field);
    
    
    band.setAttribute('d',ringsToPath(rings,left));
    band.setAttribute('fill',bandColors[i]);
    band.setAttribute('fill-rule','evenodd');
  });
  bands.forEach(function(rings,i){
    const op=lineOpacity(i);
    if(!op)return;
    const line=svgEl('path',field);
    
    
    line.setAttribute('d',ringsToPath(rings,left));
    line.setAttribute('fill','none');
    line.setAttribute('stroke','rgba(0,0,0,'+op+')');
    line.setAttribute('stroke-width','1.3');
    line.setAttribute('stroke-linejoin','round');
  });

  latTicks.forEach(function(lat,i){
    const x=latX(lat,left);
    if(i>0&&i<latTicks.length-1){
      const g=svgEl('line',panel);
      
      
      g.setAttribute('x1',x);g.setAttribute('x2',x);
      g.setAttribute('y1',axisTop);g.setAttribute('y2',axisBottom);
      g.setAttribute('stroke','rgba(128,128,128,0.22)');
      g.setAttribute('stroke-width','1.2');
      g.setAttribute('stroke-dasharray','5 2.5');
    }
    const t=svgEl('line',panel);
    
    
    t.setAttribute('x1',x);t.setAttribute('x2',x);
    t.setAttribute('y1',axisBottom);t.setAttribute('y2',axisBottom+8);
    t.setAttribute('stroke','#000');t.setAttribute('stroke-width','1.7');
    const lab=svgEl('text',panel);
    
    
    lab.setAttribute('x',x);lab.setAttribute('y',808);
    lab.setAttribute('font-size','31.5');
    lab.setAttribute('text-anchor','middle');
    lab.textContent=latTickLabels[i];
  });
  altTicks.forEach(function(alt,i){
    const y=altY(alt);
    if(i>0&&i<altTicks.length-1){
      const g=svgEl('line',panel);
      
      
      g.setAttribute('x1',left);g.setAttribute('x2',left+axisWidth);
      g.setAttribute('y1',y);g.setAttribute('y2',y);
      g.setAttribute('stroke','rgba(128,128,128,0.22)');
      g.setAttribute('stroke-width','1.2');
      g.setAttribute('stroke-dasharray','5 2.5');
    }
    const t=svgEl('line',panel);
    
    
    t.setAttribute('x1',left-8);t.setAttribute('x2',left);
    t.setAttribute('y1',y);t.setAttribute('y2',y);
    t.setAttribute('stroke','#000');t.setAttribute('stroke-width','1.7');
    const lab=svgEl('text',panel);
    
    
    lab.setAttribute('x',left-18);lab.setAttribute('y',y+8);
    lab.setAttribute('font-size','22.5');
    lab.setAttribute('text-anchor','end');
    lab.textContent=altTickLabels[i];
  });

  const frame=svgEl('rect',panel);
  
  
  frame.setAttribute('x',left);frame.setAttribute('y',axisTop);
  frame.setAttribute('width',axisWidth);frame.setAttribute('height',axisBottom-axisTop);
  frame.setAttribute('fill','none');
  frame.setAttribute('stroke','#000');frame.setAttribute('stroke-width','1.7');

  const title=svgEl('text',panel);
  
  
  title.setAttribute('x',left+axisWidth/2);title.setAttribute('y',51);
  title.setAttribute('font-size','37.2');
  title.setAttribute('font-weight','700');
  title.setAttribute('text-anchor','middle');
  title.setAttribute('style','fill:#000');
  title.textContent=panelTitles[p];

  const xl=svgEl('text',panel);
  
  
  xl.setAttribute('x',left+axisWidth/2);xl.setAttribute('y',849);
  xl.setAttribute('font-size','32');
  xl.setAttribute('text-anchor','middle');
  xl.textContent='Latitude';
});

const yTitle=svgEl('text',root);


yTitle.setAttribute('transform','translate(48,424) rotate(-90)');
yTitle.setAttribute('font-size','34.4');
yTitle.setAttribute('text-anchor','middle');
yTitle.textContent='Altitude (km)';

// Colour bar
const cbarLeft=3145, cbarRight=3177, cbarBottomY=735.7, cbarTopY=105, arrowTop=73.5, arrowBottom=767;
function cbarY(i){return cbarBottomY-i*(cbarBottomY-cbarTopY)/(levels.length-1);}
const cbar=svgEl('g',root);


bandColors.forEach(function(c,i){
  const seg=svgEl('rect',cbar);
  
  
  seg.setAttribute('x',cbarLeft);
  seg.setAttribute('y',cbarY(i+1));
  seg.setAttribute('width',cbarRight-cbarLeft);
  seg.setAttribute('height',cbarY(i)-cbarY(i+1)+0.4);
  seg.setAttribute('fill',c);
});
const topArrow=svgEl('polygon',cbar);


topArrow.setAttribute('points',cbarLeft+','+cbarTopY+' '+(cbarLeft+cbarRight)/2+','+arrowTop+' '+cbarRight+','+cbarTopY);
topArrow.setAttribute('fill',bandColors[15]);
const bottomArrow=svgEl('polygon',cbar);


bottomArrow.setAttribute('points',cbarLeft+','+cbarBottomY+' '+(cbarLeft+cbarRight)/2+','+arrowBottom+' '+cbarRight+','+cbarBottomY);
bottomArrow.setAttribute('fill',bandColors[0]);
const outline=svgEl('polygon',cbar);


outline.setAttribute('points',cbarLeft+','+cbarTopY+' '+(cbarLeft+cbarRight)/2+','+arrowTop+' '+cbarRight+','+cbarTopY+' '+cbarRight+','+cbarBottomY+' '+(cbarLeft+cbarRight)/2+','+arrowBottom+' '+cbarLeft+','+cbarBottomY);
outline.setAttribute('fill','none');
outline.setAttribute('stroke','#000');
outline.setAttribute('stroke-width','1.5');
const shade=svgEl('line',cbar);


shade.setAttribute('x1',cbarRight+1.5);shade.setAttribute('x2',cbarRight+1.5);
shade.setAttribute('y1',cbarTopY);shade.setAttribute('y2',cbarBottomY);
shade.setAttribute('stroke','#9a9a9a');shade.setAttribute('stroke-width','2');

cbarTickLabels.forEach(function(label,i){
  const y=cbarY(i);
  const tick=svgEl('line',cbar);
  
  
  tick.setAttribute('x1',cbarRight);
  tick.setAttribute('x2',cbarRight+(label?10:6.5));
  tick.setAttribute('y1',y);tick.setAttribute('y2',y);
  tick.setAttribute('stroke','#000');tick.setAttribute('stroke-width','1.4');
  if(!label)return;
  const txt=svgEl('text',cbar);
  
  
  txt.setAttribute('x',3195);txt.setAttribute('y',y+8);
  txt.setAttribute('font-size','22.5');
  const parts=label.split('^');
  txt.textContent=parts[0];
  if(parts[1]){
    const sup=svgEl('tspan',txt);
    sup.setAttribute('dy','-9');
    sup.setAttribute('font-size','16.5');
    sup.textContent=parts[1];
  }
});

const cbarTitle=svgEl('text',root);


cbarTitle.setAttribute('transform','translate(3308,420) rotate(90)');
cbarTitle.setAttribute('font-size','31');
cbarTitle.setAttribute('text-anchor','middle');
cbarTitle.textContent='pptv';
</script>
</body>
</html>
